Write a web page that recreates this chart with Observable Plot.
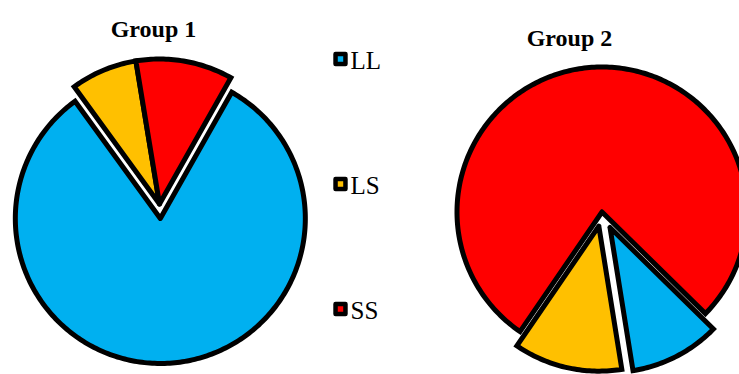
<!DOCTYPE html>
<html>
<head>
<meta charset="utf-8">
<script src="https://cdn.jsdelivr.net/npm/d3@7"></script>
<script src="https://cdn.jsdelivr.net/npm/@observablehq/plot@0.6"></script>
<style>
  html, body { margin: 0; padding: 0; background: #fff; }
  #chart { width: 739px; height: 374px; overflow: hidden; }
  #chart svg { display: block; }
</style>
</head>
<body>
<div id="chart"></div>
<script>
// Share of each choice type (%) within each group
const categories = ["LL", "LS", "SS"];
const colors = ["#00B0F0", "#FFC000", "#FF0000"];
const groups = ["Group 1", "Group 2"];
const group1Values = [81.8, 7.4, 10.8];
const group2Values = [10.1, 12.1, 77.8];

// Layout in pixels: pie centres, radius, first-slice angle, slice explosion
const W = 739, H = 374, R = 145;
const layout = {
  "Group 1": {cx: 159, cy: 203.5, start: 29.5, explode: [0.10, 0, 0], title: [153, 19]},
  "Group 2": {cx: 601.5, cy: 211.5, start: 134.5, explode: [0.12, 0.10, 0], title: [569, 28]}
};
const valuesByGroup = {"Group 1": group1Values, "Group 2": group2Values};
const rad = Math.PI / 180;

// Build a closed outline (apex → arc → apex) for every slice
const outlines = [];
for (const g of groups) {
  const L = layout[g];
  const a0 = L.start * rad;
  const arcs = d3.pie().sort(null).startAngle(a0).endAngle(a0 + 2 * Math.PI)(valuesByGroup[g]);
  const slices = arcs.map((a, i) => ({a, i, e: L.explode[i]}))
    .sort((p, q) => p.e - q.e); // pieces that stay in place are drawn first
  for (const {a, i, e} of slices) {
    const mid = (a.startAngle + a.endAngle) / 2;
    const ox = L.cx + e * R * Math.sin(mid);
    const oy = L.cy - e * R * Math.cos(mid);
    const key = g + "-" + categories[i];
    const pts = [{key, cat: categories[i], x: ox, y: oy}];
    const n = Math.max(2, Math.ceil((a.endAngle - a.startAngle) / rad));
    for (let k = 0; k <= n; ++k) {
      const t = a.startAngle + (a.endAngle - a.startAngle) * k / n;
      pts.push({key, cat: categories[i], x: ox + R * Math.sin(t), y: oy - R * Math.cos(t)});
    }
    pts.push({key, cat: categories[i], x: ox, y: oy});
    outlines.push(...pts);
  }
}

const serif = "'Liberation Serif', 'Times New Roman', serif";
const legendX = 340, legendY0 = 60, legendStep = 125;

const chart = Plot.plot({
  width: W,
  height: H,
  margin: 0,
  style: {background: "#fff", overflow: "hidden"},
  x: {domain: [0, W], range: [0, W], axis: null},
  y: {domain: [0, H], range: [0, H], axis: null},
  color: {domain: categories, range: colors},
  marks: [
    Plot.line(outlines, {
      x: "x", y: "y", z: "key", fill: "cat",
      stroke: "black", strokeWidth: 5,
      strokeLinejoin: "miter", strokeMiterlimit: 4, curve: "linear"
    }),
    // titles
    Plot.text(groups, {
      x: d => layout[d].title[0], y: d => layout[d].title[1],
      text: d => d, fontSize: 24, fontWeight: "bold",
      fontFamily: serif, fill: "black", lineAnchor: "top"
    }),
    // legend
    Plot.dot(categories, {
      x: () => legendX, y: (d, i) => legendY0 - 1.5 + i * legendStep,
      symbol: "square", r: 5.6, fill: d => d,
      stroke: "black", strokeWidth: 4.5, strokeLinejoin: "round"
    }),
    Plot.text(categories, {
      x: () => legendX + 10, y: (d, i) => legendY0 + i * legendStep,
      text: d => d, textAnchor: "start", fontSize: 25,
      fontFamily: serif, fill: "black"
    })
  ]
});
document.getElementById("chart").append(chart);
</script>
</body>
</html>
